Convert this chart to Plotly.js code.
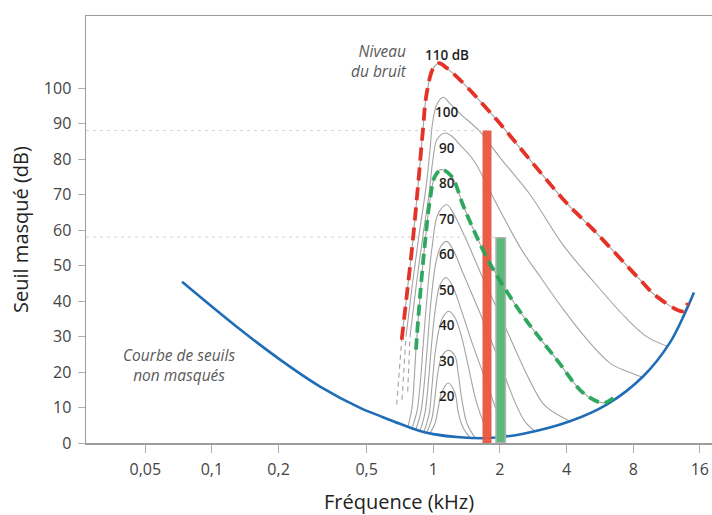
<!DOCTYPE html>
<html>
<head>
<meta charset="utf-8">
<script src="https://cdn.plot.ly/plotly-3.0.1.min.js"></script>
<style>
  html, body { margin: 0; padding: 0; background: #ffffff; }
  #chart { width: 712px; height: 515px; }
</style>
</head>
<body>
<div id="chart"></div>
<script>
// ---------- Data ----------
const freqTicks = [0.05, 0.1, 0.2, 0.5, 1, 2, 4, 8, 16];
const freqTickText = ['0,05', '0,1', '0,2', '0,5', '1', '2', '4', '8', '16'];
const dbTicks = [0, 10, 20, 30, 40, 50, 60, 70, 80, 90, 100];

// Unmasked threshold curve (kHz, dB)
const thresholdFreq = [0.0733, 0.129, 0.203, 0.308, 0.467, 0.580, 0.707, 0.87, 1.0, 1.32, 1.80, 2.55, 4.14, 6.07, 8.88, 11.7, 13.7, 15.05];
const thresholdDb   = [45.4, 32.8, 23.5, 15.9, 9.9, 7.5, 5.4, 3.4, 2.5, 1.6, 1.4, 2.6, 6.1, 10.8, 18.8, 28.2, 36.6, 42.4];

// Masking curves (noise level -> masked threshold)
const maskLevels = [20, 30, 40, 50, 60, 70, 80, 90, 100, 110];

const mask20Freq = [0.9663, 1.0178, 1.0501, 1.0890, 1.1688, 1.2531, 1.2971, 1.3663, 1.4648];
const mask20Db   = [2.8, 5.5, 9.5, 14.1, 16.9, 14.1, 8.5, 4.2, 1.5];

const mask30Freq = [0.9366, 0.9866, 1.0178, 1.0501, 1.0947, 1.1688, 1.2531, 1.2931, 1.3479, 1.4199, 1.5430];
const mask30Db   = [3.1, 7, 13, 20, 24.5, 26.1, 24.5, 20, 12, 5.5, 1.5];

const mask40Freq = [0.9078, 0.9563, 0.9866, 1.0178, 1.0611, 1.1061, 1.1773, 1.2531, 1.3340, 1.4347, 1.5591, 1.6944, 1.8414];
const mask40Db   = [3.2, 8, 16, 25, 32, 35.5, 37.1, 35.3, 30.5, 22, 12, 5.5, 1.4];

const mask50Freq = [0.8708, 0.9173, 0.9464, 0.9764, 1.0178, 1.0721, 1.1412, 1.2146, 1.3202, 1.5159, 1.7426, 1.9601, 2.1525];
const mask50Db   = [3.4, 8.5, 16, 26, 37, 44.5, 46.6, 44.6, 38.5, 27.2, 16.9, 8, 1.8];

const mask60Freq = [0.8353, 0.8799, 0.9078, 0.9366, 0.9764, 1.0285, 1.0834, 1.1495, 1.2273, 1.3479, 1.6253, 2.0012, 2.3394, 2.5955, 2.8802];
const mask60Db   = [3.8, 9, 16, 26, 40, 51, 55.5, 56.8, 54.5, 48.5, 36.6, 22.5, 11.5, 6, 3.3];

const mask70Freq = [0.8013, 0.8440, 0.8708, 0.8984, 0.9366, 0.9866, 1.0501, 1.1495, 1.2273, 1.3907, 1.6595, 2.0012, 2.3394, 2.7340, 3.1960, 4.1450];
const mask70Db   = [4.2, 9, 16, 27, 41, 55, 64.5, 67.1, 64.9, 58, 47, 36, 26.5, 17.5, 10.5, 6.1];

const mask80Freq = [0.7686, 0.8013, 0.8182, 0.835, 0.871, 0.917, 0.966, 1.017, 1.09, 1.21, 1.37, 1.62, 1.87, 2.55, 3.61, 4.76, 5.86, 6.5];
const mask80Db   = [4.6, 10, 17, 26.3, 41.3, 56.3, 68.5, 75.1, 77.0, 75.1, 66.6, 56.3, 48.8, 35.7, 23.5, 14.1, 11.3, 12.7];

const mask90Freq = [0.7848, 0.8397, 0.9012, 0.9563, 0.9969, 1.0392, 1.1294, 1.2021, 1.3202, 1.5159, 1.9398, 2.5080, 3.0340, 3.9350, 5.1030, 6.2840, 7.3440, 8.7380];
const mask90Db   = [30, 45, 59.2, 70, 80, 85.5, 87.3, 86.6, 84.0, 79.8, 67.1, 54.4, 46.9, 37.0, 28.2, 22.5, 20.4, 18.6];

const mask100Freq = [0.7528, 0.8055, 0.8645, 0.9269, 0.9663, 0.9917, 1.0392, 1.1096, 1.190, 1.3202, 1.6253, 2.0012, 2.7340, 3.8540, 5.3760, 7.3440, 9.2340, 11.49];
const mask100Db   = [30, 45, 59.2, 72, 82.6, 90, 95.5, 97.4, 95.6, 92.8, 87.7, 80.4, 70, 55.8, 45, 35.5, 29.9, 27.2];

const mask110Freq = [0.7199, 0.758, 0.806, 0.855, 0.895, 0.934, 1.0, 1.064, 1.15, 1.32, 1.93, 2.73, 4.0, 5.28, 8.58, 10.2, 13.5, 14.1];
const mask110Db   = [29.1, 41.3, 56.3, 73.2, 87.3, 98.6, 105.6, 107.0, 105.6, 102.3, 91.1, 79.8, 67.6, 60.1, 46.0, 41.3, 37.1, 39.5];

// Uncertain low-frequency continuations (dashed grey)
const ext110Freq = [0.6834, 0.7199];
const ext110Db   = [10.8, 29.1];
const ext100Freq = [0.7222, 0.7528];
const ext100Db   = [12.2, 30];
const ext90Freq  = [0.7662, 0.7848];
const ext90Db    = [14.5, 30];

// Two pure tones (bars)
const toneFreq = [1.748, 2.016];
const toneDb   = [88, 58];

// ---------- Chart ----------
const xRangeLog = [-1.5689, 1.2590];
const xLeftEdge = Math.pow(10, xRangeLog[0]);
const GREY = '#a3a3a3';

const maskFreqs = [mask20Freq, mask30Freq, mask40Freq, mask50Freq, mask60Freq, mask70Freq, mask80Freq, mask90Freq, mask100Freq, mask110Freq];
const maskDbs   = [mask20Db, mask30Db, mask40Db, mask50Db, mask60Db, mask70Db, mask80Db, mask90Db, mask100Db, mask110Db];

const traces = [];
maskLevels.forEach((lvl, i) => {
  traces.push({
    x: maskFreqs[i], y: maskDbs[i], type: 'scatter', mode: 'lines',
    line: { color: GREY, width: 1.1, shape: 'spline', smoothing: 1 },
    hoverinfo: 'skip'
  });
});
[[ext110Freq, ext110Db], [ext100Freq, ext100Db], [ext90Freq, ext90Db]].forEach(([fx, dy]) => {
  traces.push({
    x: fx, y: dy, type: 'scatter', mode: 'lines',
    line: { color: GREY, width: 1.1, dash: '5px,4px' }, hoverinfo: 'skip'
  });
});
// dotted reference lines to the tone bars
toneFreq.forEach((f, i) => {
  traces.push({
    x: [xLeftEdge, f], y: [toneDb[i], toneDb[i]], type: 'scatter', mode: 'lines',
    line: { color: '#d2d2d2', width: 1, dash: '3px,4px' }, hoverinfo: 'skip'
  });
});
// unmasked threshold
traces.push({
  x: thresholdFreq, y: thresholdDb, type: 'scatter', mode: 'lines',
  line: { color: '#1f6db6', width: 2.6, shape: 'spline', smoothing: 1 }, hoverinfo: 'skip'
});
// highlighted masking curve, 110 dB
traces.push({
  x: mask110Freq, y: mask110Db, type: 'scatter', mode: 'lines',
  line: { color: '#e53228', width: 3.8, dash: '13px,7px', shape: 'spline', smoothing: 1 }, hoverinfo: 'skip'
});
// tone bars
traces.push({
  x: [toneFreq[1], toneFreq[1]], y: [0, toneDb[1]], type: 'scatter', mode: 'lines',
  line: { color: '#b5b5b5', width: 11 }, hoverinfo: 'skip'
});
traces.push({
  x: [toneFreq[1], toneFreq[1]], y: [0.3, toneDb[1] - 0.3], type: 'scatter', mode: 'lines',
  line: { color: '#5db87b', width: 8 }, hoverinfo: 'skip'
});
traces.push({
  x: [toneFreq[0], toneFreq[0]], y: [0, toneDb[0]], type: 'scatter', mode: 'lines',
  line: { color: '#e8553f', width: 9 }, opacity: 0.95, hoverinfo: 'skip'
});
// highlighted masking curve, 80 dB
traces.push({
  x: mask80Freq.slice(3), y: mask80Db.slice(3), type: 'scatter', mode: 'lines',
  line: { color: '#27a457', width: 3.8, dash: '11px,6px', shape: 'spline', smoothing: 1 },
  opacity: 0.95, hoverinfo: 'skip'
});

// labels of noise levels
const levelLabelFreq = 1.15;
const annotations = maskLevels.map(lvl => ({
  x: Math.log10(levelLabelFreq), y: lvl === 110 ? lvl - 0.6 : lvl - 6.8,
  xref: 'x', yref: 'y', showarrow: false,
  text: lvl === 110 ? '110 dB' : String(lvl),
  font: { family: 'Open Sans', size: 13.5, color: '#1e1e1e', weight: 600 },
  xanchor: 'center', yanchor: 'middle'
}));
annotations.push({
  x: 0.516, y: 0.895, xref: 'paper', yref: 'paper', showarrow: false,
  text: '<i>Niveau<br>du bruit</i>', align: 'right', xanchor: 'right', yanchor: 'middle',
  font: { family: 'Open Sans', size: 15.5, color: '#5a5a5a' }
});
annotations.push({
  x: 0.1486, y: 0.1815, xref: 'paper', yref: 'paper', showarrow: false,
  text: '<i>Courbe de seuils<br>non masqués</i>', align: 'center', xanchor: 'center', yanchor: 'middle',
  font: { family: 'Open Sans', size: 15.5, color: '#5a5a5a' }
});

const layout = {
  width: 712, height: 515,
  margin: { l: 86, r: 0, t: 16, b: 72 },
  paper_bgcolor: '#ffffff', plot_bgcolor: '#ffffff',
  showlegend: false, hovermode: false,
  separators: ', ',
  font: { family: 'Open Sans', color: '#444444' },
  xaxis: {
    type: 'log', range: xRangeLog,
    tickvals: freqTicks, ticktext: freqTickText,
    ticks: 'outside', ticklen: 8, tickwidth: 1, tickcolor: '#b0b0b0',
    ticklabelstandoff: 3,
    showline: true, linecolor: '#9c9c9c', linewidth: 1.5, mirror: true,
    showgrid: false, zeroline: false,
    tickfont: { family: 'Open Sans', size: 16, color: '#444444' },
    title: { text: 'Fréquence (kHz)', font: { family: 'Open Sans', size: 20, color: '#222222' }, standoff: 26 }
  },
  yaxis: {
    range: [0, 120.28],
    tickvals: dbTicks,
    ticks: 'outside', ticklen: 7, tickwidth: 1, tickcolor: '#b0b0b0',
    ticklabelstandoff: 3,
    showline: true, linecolor: '#9c9c9c', linewidth: 1.5,
    showgrid: false, zeroline: false,
    tickfont: { family: 'Open Sans', size: 16, color: '#444444' },
    title: { text: 'Seuil masqué (dB)', font: { family: 'Open Sans', size: 20, color: '#222222' }, standoff: 10 }
  },
  annotations: annotations
};

Plotly.newPlot('chart', traces, layout, { displayModeBar: false, staticPlot: true });
</script>
</body>
</html>
